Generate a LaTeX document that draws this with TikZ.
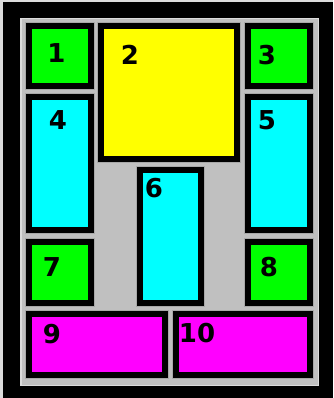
\documentclass[tikz,border=0pt]{standalone}
\usepackage{fontspec}
\newfontfamily\numfont{DejaVu Sans}
\usepackage{tikz}
\usetikzlibrary{positioning}
\definecolor{panelgray}{HTML}{C0C0C0}
\definecolor{bevelgray}{HTML}{DCDCDC}
\definecolor{edgegray}{HTML}{A8A8A8}
\definecolor{boxgreen}{HTML}{00FF00}
\definecolor{boxyellow}{HTML}{FFFF00}
\definecolor{boxcyan}{HTML}{00FFFF}
\definecolor{boxmagenta}{HTML}{FF00FF}

\begin{document}
\begin{tikzpicture}[x=1pt,y=-1pt,
  room/.style={rectangle,draw=black,line width=6pt,inner sep=0pt,preaction={draw=edgegray,line width=8pt}},
  num/.style={inner sep=0pt,font=\numfont\bfseries\fontsize{26pt}{26pt}\selectfont}
]
\useasboundingbox (0,0) rectangle (333,398);
\fill[bevelgray] (0,0) rectangle (333,398);
\fill[black] (3,2) rectangle (333,398);
\filldraw[fill=panelgray,draw=bevelgray,line width=1.5pt] (20.75,18.75) rectangle (318.25,385.25);

\node[room,fill=boxgreen,minimum width=62,minimum height=60] (r1) at (60,56) {};
\node[room,fill=boxyellow,minimum width=136,minimum height=133] (r2) at (169,92.5) {};
\node[room,fill=boxgreen,minimum width=62,minimum height=60] (r3) at (279,56) {};
\node[room,fill=boxcyan,minimum width=62,minimum height=133] (r4) at (60,163.5) {};
\node[room,fill=boxcyan,minimum width=62,minimum height=133] (r5) at (279,163.5) {};
\node[room,fill=boxcyan,minimum width=61,minimum height=133] (r6) at (170.5,236.5) {};
\node[room,fill=boxgreen,minimum width=62,minimum height=61] (r7) at (60,272.5) {};
\node[room,fill=boxgreen,minimum width=62,minimum height=61] (r8) at (279,272.5) {};
\node[room,fill=boxmagenta,minimum width=136,minimum height=61] (r9) at (97,344.5) {};
\node[room,fill=boxmagenta,minimum width=134,minimum height=61] (r10) at (243,344.5) {};

\node[num] (n1) at (56.5,53.5) {1};
\node[num] (n2) at (130,55) {2};
\node[num] (n3) at (267,55) {3};
\node[num] (n4) at (58,120) {4};
\node[num] (n5) at (267,120) {5};
\node[num] (n6) at (154,188) {6};
\node[num] (n7) at (52,267) {7};
\node[num] (n8) at (269,267) {8};
\node[num] (n9) at (52,334) {9};
\node[num] (n10) at (197,333) {10};
\end{tikzpicture}
\end{document}
